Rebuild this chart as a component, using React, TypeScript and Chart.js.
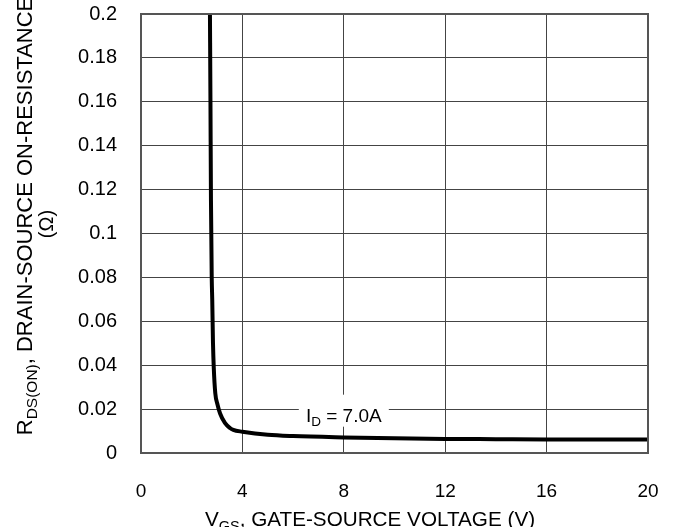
import React, { useEffect, useRef } from "react";
import { Chart, registerables } from "chart.js";

Chart.register(...registerables);

const vgsValues = [2.72, 2.74, 2.76, 2.79, 2.81, 2.84, 2.87, 2.93, 3.02, 3.12, 3.31, 3.51, 3.64, 4.0, 5.0, 6.0, 8.0, 10, 12, 14, 16, 18, 20];
const rdsValues = [0.2, 0.16, 0.115, 0.08, 0.07, 0.05, 0.039, 0.0273, 0.022, 0.018, 0.0137, 0.0114, 0.0105, 0.0097, 0.0083, 0.0077, 0.0071, 0.0067, 0.0064, 0.0063, 0.0062, 0.0062, 0.0061];
const xTickLabels = ["0", "4", "8", "12", "16", "20"];
const yTickLabels = ["0", "0.02", "0.04", "0.06", "0.08", "0.1", "0.12", "0.14", "0.16", "0.18", "0.2"];
const annotationPoint = { x: 8, y: 0.017 };

const FONT = '"Liberation Sans", Arial, sans-serif';

type Part = { text: string; size: number; dy: number };

function drawRich(ctx: CanvasRenderingContext2D, parts: Part[], cx: number, baseline: number) {
  let total = 0;
  const widths = parts.map((p) => {
    ctx.font = `${p.size}px ${FONT}`;
    const w = ctx.measureText(p.text).width;
    total += w;
    return w;
  });
  let x = cx - total / 2;
  ctx.textAlign = "left";
  ctx.textBaseline = "alphabetic";
  parts.forEach((p, i) => {
    ctx.font = `${p.size}px ${FONT}`;
    ctx.fillText(p.text, x, baseline + p.dy);
    x += widths[i];
  });
  return total;
}

const textPlugin = {
  id: "customTexts",
  afterDraw(chart: any) {
    const ctx: CanvasRenderingContext2D = chart.ctx;
    const xs = chart.scales.x;
    const ys = chart.scales.y;
    ctx.save();
    ctx.fillStyle = "#000";

    // Y axis title (two lines, rotated)
    ctx.save();
    ctx.translate(32, 216);
    ctx.rotate(-Math.PI / 2);
    drawRich(
      ctx,
      [
        { text: "R", size: 22, dy: 0 },
        { text: "DS(ON)", size: 15.5, dy: 5 },
        { text: ", DRAIN-SOURCE ON-RESISTANCE", size: 22, dy: 0 },
      ],
      0,
      0
    );
    ctx.restore();
    ctx.save();
    ctx.translate(53, 224);
    ctx.rotate(-Math.PI / 2);
    drawRich(ctx, [{ text: "(Ω)", size: 20, dy: 0 }], 0, 0);
    ctx.restore();

    // X axis title
    drawRich(
      ctx,
      [
        { text: "V", size: 20.7, dy: 0 },
        { text: "GS", size: 14.5, dy: 5 },
        { text: ", GATE-SOURCE VOLTAGE (V)", size: 20.7, dy: 0 },
      ],
      370,
      526
    );

    // Annotation with white background
    const ax = xs.getPixelForValue(annotationPoint.x);
    const ay = ys.getPixelForValue(annotationPoint.y);
    ctx.fillStyle = "#fff";
    ctx.fillRect(ax - 45, ay - 21, 90, 32);
    ctx.fillStyle = "#000";
    drawRich(
      ctx,
      [
        { text: "I", size: 19, dy: 0 },
        { text: "D", size: 13.5, dy: 4 },
        { text: " = 7.0A", size: 19, dy: 0 },
      ],
      ax,
      ay + 6
    );
    ctx.restore();
  },
};

export default function App() {
  const canvasRef = useRef<HTMLCanvasElement | null>(null);

  useEffect(() => {
    if (!canvasRef.current) return;
    const chart = new Chart(canvasRef.current, {
      type: "line",
      data: {
        datasets: [
          {
            data: vgsValues.map((v, i) => ({ x: v, y: rdsValues[i] })),
            borderColor: "#000",
            borderWidth: 4,
            pointRadius: 0,
            fill: false,
            cubicInterpolationMode: "monotone",
          },
        ],
      },
      options: {
        responsive: false,
        animation: false,
        devicePixelRatio: 1,
        layout: { padding: { top: 14, right: 31, left: 0, bottom: 0 } },
        plugins: { legend: { display: false }, tooltip: { enabled: false }, title: { display: false } },
        scales: {
          x: {
            type: "linear",
            min: 0,
            max: 20,
            afterFit: (s: any) => {
              s.height = 74;
              s.paddingLeft = 0;
              s.paddingRight = 0;
            },
            ticks: {
              stepSize: 4,
              padding: 27,
              color: "#000",
              font: { family: FONT, size: 19 },
              maxRotation: 0,
              callback: (_v: any, i: number) => xTickLabels[i],
            },
            grid: { color: "#444", lineWidth: 1, drawTicks: false },
            border: { color: "#555", width: 2 },
          },
          y: {
            type: "linear",
            min: 0,
            max: 0.2,
            afterFit: (s: any) => {
              s.width = 141;
              s.paddingTop = 0;
              s.paddingBottom = 0;
            },
            ticks: {
              stepSize: 0.02,
              padding: 24,
              color: "#000",
              font: { family: FONT, size: 20 },
              callback: (_v: any, i: number) => yTickLabels[i],
            },
            grid: { color: "#444", lineWidth: 1, drawTicks: false },
            border: { color: "#555", width: 2 },
          },
        },
      },
      plugins: [
        {
          id: "frame",
          afterDraw(chart: any) {
            const { left, right, top, bottom } = chart.chartArea;
            const ctx = chart.ctx;
            ctx.save();
            ctx.strokeStyle = "#555";
            ctx.lineWidth = 2;
            ctx.strokeRect(left, top, right - left, bottom - top);
            ctx.restore();
          },
        },
        textPlugin,
      ],
    } as any);
    return () => chart.destroy();
  }, []);

  return (
    <div style={{ position: "absolute", left: 0, top: 0, width: 679, height: 527, background: "#fff" }}>
      <canvas ref={canvasRef} width={679} height={527} />
    </div>
  );
}
